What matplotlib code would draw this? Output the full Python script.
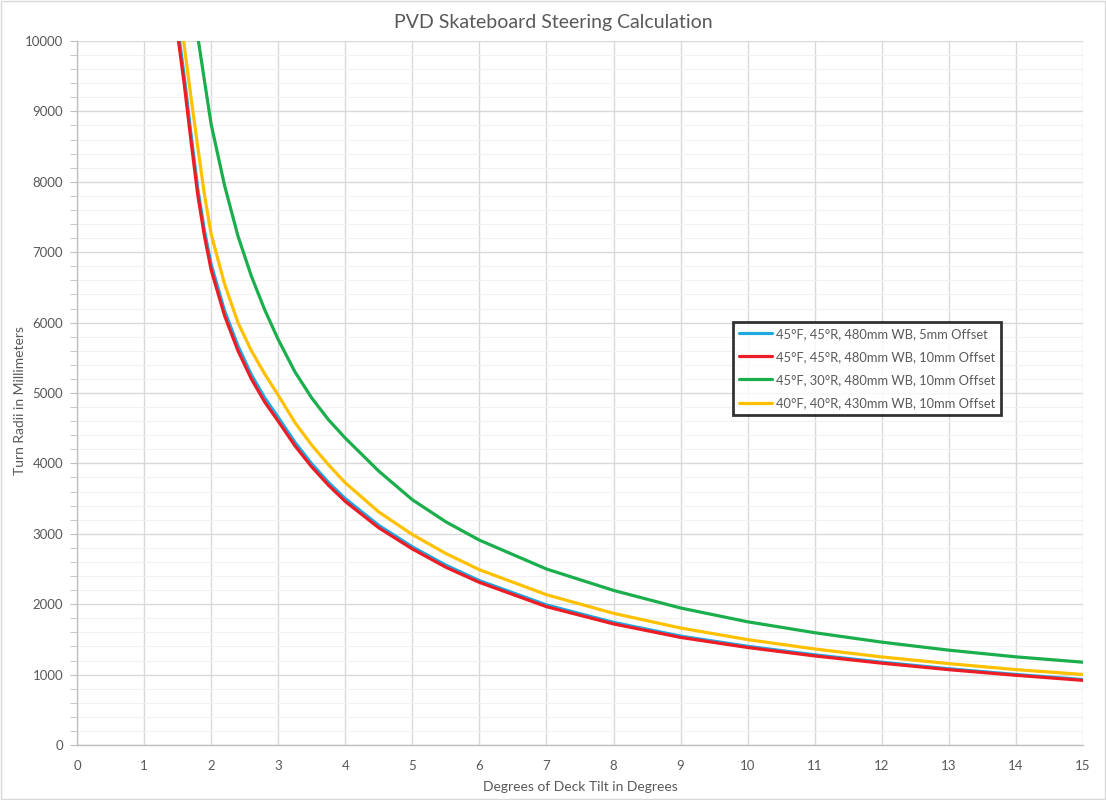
import matplotlib
matplotlib.use("Agg")
import matplotlib.pyplot as plt
from matplotlib.ticker import MultipleLocator

plt.rcParams['font.family'] = ['Lato', 'DejaVu Sans']

# tilt in degrees
tilt = [1.5, 1.6, 1.7, 1.8, 1.9, 2.0, 2.2, 2.4, 2.6, 2.8, 3.0, 3.25, 3.5, 3.75,
        4.0, 4.5, 5.0, 5.5, 6, 7, 8, 9, 10, 11, 12, 13, 14, 15]

# turn radii in mm
r_45_45_5 = [10220, 9490, 8680, 7910, 7310, 6830, 6170, 5670, 5260, 4930, 4655, 4300, 3995, 3730,
             3500, 3120, 2815, 2555, 2335, 1990, 1742, 1547, 1402, 1281, 1176, 1083, 1002, 929]
r_45_45_10 = [10100, 9380, 8580, 7820, 7230, 6750, 6100, 5600, 5200, 4870, 4600, 4250, 3950, 3690,
              3460, 3085, 2785, 2525, 2310, 1965, 1720, 1528, 1385, 1265, 1162, 1070, 990, 918]
r_45_30_10 = [13000, 12000, 10900, 10070, 9440, 8820, 7950, 7230, 6660, 6180, 5760, 5300, 4930, 4620,
              4360, 3890, 3484, 3170, 2910, 2500, 2196, 1946, 1750, 1595, 1461, 1347, 1252, 1176]
r_40_40_10 = [10700, 9930, 9200, 8500, 7820, 7260, 6550, 6000, 5600, 5270, 4970, 4580, 4260, 3980,
              3725, 3310, 2990, 2720, 2490, 2135, 1870, 1662, 1497, 1364, 1251, 1156, 1071, 1002]

labels = ["45°F, 45°R, 480mm WB, 5mm Offset",
          "45°F, 45°R, 480mm WB, 10mm Offset",
          "45°F, 30°R, 480mm WB, 10mm Offset",
          "40°F, 40°R, 430mm WB, 10mm Offset"]
colors = ["#1fa8e0", "#ee1c25", "#1aae4c", "#ffc000"]

fig = plt.figure(figsize=(11.06, 8), dpi=100)
ax = fig.add_axes([0.0696, 0.06875, 0.9096, 0.88])

for ys, lab, c in zip([r_45_45_5, r_45_45_10, r_45_30_10, r_40_40_10], labels, colors):
    ax.plot(tilt, ys, color=c, lw=2.3, label=lab, solid_capstyle='round',
            solid_joinstyle='round')

ax.set_xlim(0, 15)
ax.set_ylim(0, 10000)
ax.xaxis.set_major_locator(MultipleLocator(1))
ax.yaxis.set_major_locator(MultipleLocator(1000))
ax.yaxis.set_minor_locator(MultipleLocator(200))

ax.grid(which='major', color='#d9d9d9', lw=1.0)
ax.grid(which='minor', axis='y', color='#f2f2f2', lw=0.8)
ax.set_axisbelow(True)

for s in ['top', 'right']:
    ax.spines[s].set_visible(False)
for s in ['left', 'bottom']:
    ax.spines[s].set_color('#bfbfbf')
    ax.spines[s].set_linewidth(1.0)

ax.tick_params(axis='x', length=0, pad=11, labelsize=9.5, labelcolor='#595959')
ax.tick_params(axis='y', which='major', length=5, color='#bfbfbf', pad=5,
               labelsize=9.5, labelcolor='#595959')
ax.tick_params(axis='y', which='minor', length=5, color='#bfbfbf')

ax.set_xlabel("Degrees of Deck Tilt in Degrees", fontsize=10, color='#595959', labelpad=6)
ax.set_ylabel("Turn Radii in Millimeters", fontsize=10, color='#595959')
ax.yaxis.set_label_coords(-0.051, 0.49)
fig.text(0.5, 0.972, "PVD Skateboard Steering Calculation", ha='center', va='center',
         fontsize=14, color='#595959')

leg = ax.legend(loc='upper left', bbox_to_anchor=(0.652, 0.601), fontsize=9.3,
                frameon=True, fancybox=False, handlelength=2.6, handletextpad=0.3,
                borderpad=0.45, labelspacing=0.86, borderaxespad=0)
leg.get_frame().set_edgecolor('black')
leg.get_frame().set_linewidth(2)
for t in leg.get_texts():
    t.set_color('#595959')

# thin border round the whole chart
fig.patches.append(plt.Rectangle((0.001, 0.001), 0.998, 0.998, transform=fig.transFigure,
                                 fill=False, edgecolor='#d9d9d9', lw=1))

fig.savefig("out.png", dpi=100)
